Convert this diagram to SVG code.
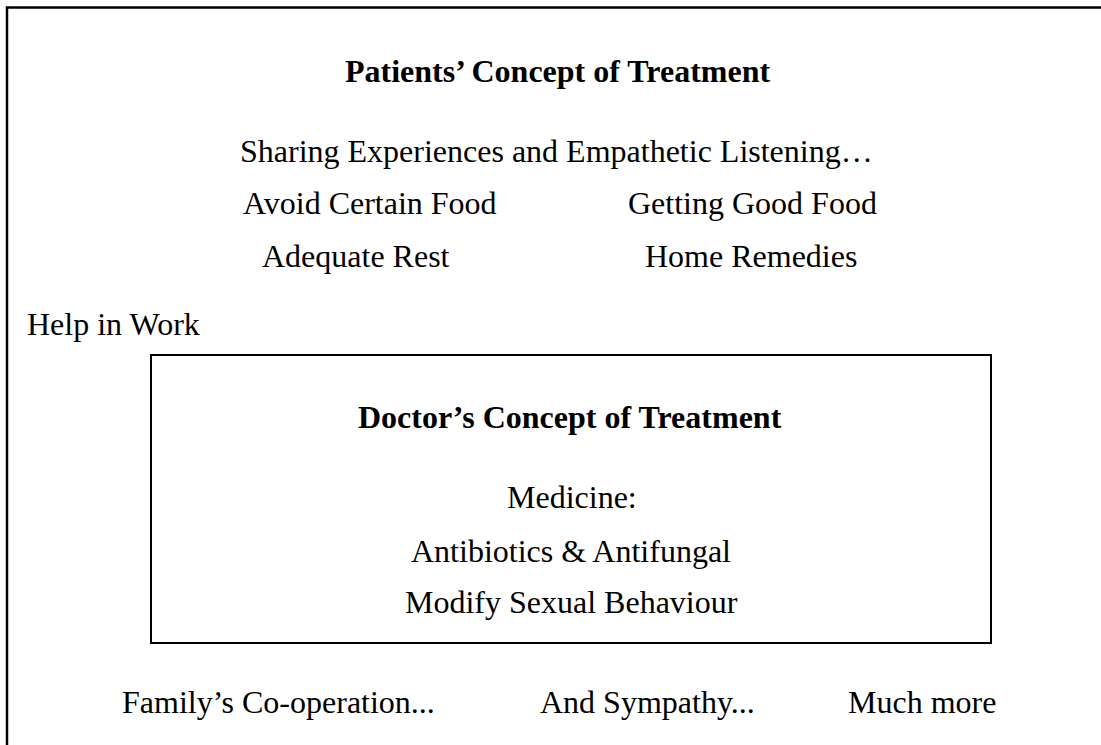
<svg xmlns="http://www.w3.org/2000/svg" width="1101" height="745" viewBox="0 0 1101 745">
  <style>
    .t { font-family: "Liberation Serif", "Times New Roman", serif; font-size: 32px; fill: #000; }
    .b { font-weight: bold; }
    .frame { fill: none; stroke: #000; }
  </style>
  <rect x="0" y="0" width="1101" height="745" fill="#fff"/>

  <!-- outer frame, runs past the right and bottom edges -->
  <g id="patients-frame">
    <rect class="frame" x="7" y="7.5" width="1130" height="780" stroke-width="2.5"/>
    <text class="t b" x="345" y="82">Patients’ Concept of Treatment</text>
    <text class="t" x="240" y="162">Sharing Experiences and Empathetic Listening…</text>
    <text class="t" x="243" y="214">Avoid Certain Food</text>
    <text class="t" x="628" y="214">Getting Good Food</text>
    <text class="t" x="262" y="267">Adequate Rest</text>
    <text class="t" x="645" y="267">Home Remedies</text>
    <text class="t" x="27" y="335">Help in Work</text>
  </g>

  <!-- inner box -->
  <g id="doctors-box">
    <rect class="frame" x="151" y="355" width="840" height="288" stroke-width="2"/>
    <text class="t b" x="358" y="428">Doctor’s Concept of Treatment</text>
    <text class="t" x="507" y="508">Medicine:</text>
    <text class="t" x="411" y="562">Antibiotics &amp; Antifungal</text>
    <text class="t" x="405" y="613">Modify Sexual Behaviour</text>
  </g>

  <g id="bottom-row">
    <text class="t" x="122" y="713">Family’s Co-operation...</text>
    <text class="t" x="540" y="713">And Sympathy...</text>
    <text class="t" x="848" y="713">Much more</text>
  </g>

  <g id="connectors"></g>
</svg>
